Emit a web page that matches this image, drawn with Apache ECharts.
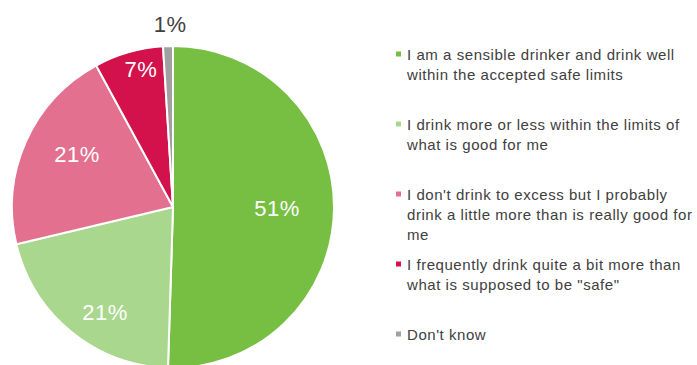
<!DOCTYPE html>
<html>
<head>
<meta charset="utf-8">
<script src="https://cdn.jsdelivr.net/npm/echarts@6/dist/echarts.min.js"></script>
<style>
  html, body { margin: 0; padding: 0; background: #ffffff; }
  #chart { width: 697px; height: 365px; }
  /* slightly tracked lettering for all chart text */
  #chart svg text { letter-spacing: 0.55px; }
</style>
</head>
<body>
<div id="chart"></div>
<script>
// Survey answers (legend text, wrapped as shown) and their shares in percent
const categories = [
  'I am a sensible drinker and drink well\nwithin the accepted safe limits',
  'I drink more or less within the limits of\nwhat is good for me',
  "I don't drink to excess but I probably\ndrink a little more than is really good for\nme",
  'I frequently drink quite a bit more than\nwhat is supposed to be "safe"',
  "Don't know"
];
const shares = [51, 21, 21, 7, 1];
const sliceColors = ['#77bf43', '#a9d78e', '#e2708e', '#d3114a', '#a0a0a0'];

// Label placement: fraction of the radius and small angular nudge (degrees)
const labelRadius = [0.646, 0.78, 0.68, 0.874, 1.134];
const labelNudge = [0.2, -6.5, 4.7, 2.9, 0.9];

const CX = 173, CY = 207, R = 161;
const FONT = '"Liberation Sans", Arial, sans-serif';

const total = shares.reduce((a, b) => a + b, 0);
const midAngles = [];
let acc = 0;
shares.forEach(v => { midAngles.push((acc + v / 2) / total * 360); acc += v; });

const chart = echarts.init(document.getElementById('chart'), null, { renderer: 'svg' });

chart.setOption({
  animation: false,
  backgroundColor: '#ffffff',
  legend: {
    orient: 'vertical',
    left: 394,
    top: 4,
    height: 480,
    padding: 0,
    itemGap: -30,
    itemWidth: 7,
    itemHeight: 7,
    icon: 'rect',
    selectedMode: false,
    data: categories,
    formatter: name => {
      // centre the first text line on the marker; entries share one height
      const lines = name.split('\n');
      while (lines.length < 3) lines.push('');
      return '\n\n' + lines.join('\n');
    },
    textStyle: {
      fontFamily: FONT,
      fontSize: 15,
      lineHeight: 20,
      color: '#404040'
    }
  },
  series: [{
    type: 'pie',
    center: [CX, CY],
    radius: [0, R],
    startAngle: 90,
    clockwise: true,
    avoidLabelOverlap: false,
    itemStyle: { borderColor: '#ffffff', borderWidth: 2 },
    label: {
      show: true,
      position: 'inside',
      fontFamily: FONT,
      fontSize: 22,
      color: '#ffffff',
      formatter: p => p.value + '%'
    },
    labelLine: { show: false },
    emphasis: { disabled: true },
    labelLayout: p => {
      const i = p.dataIndex;
      const a = (midAngles[i] + labelNudge[i]) * Math.PI / 180;
      const r = labelRadius[i] * R;
      return {
        x: CX + r * Math.sin(a),
        y: CY - r * Math.cos(a),
        align: 'center',
        verticalAlign: 'middle'
      };
    },
    data: categories.map((name, i) => ({
      name: name,
      value: shares[i],
      itemStyle: { color: sliceColors[i] },
      label: i === 4 ? { color: '#404040' } : undefined
    }))
  }]
});
</script>
</body>
</html>
